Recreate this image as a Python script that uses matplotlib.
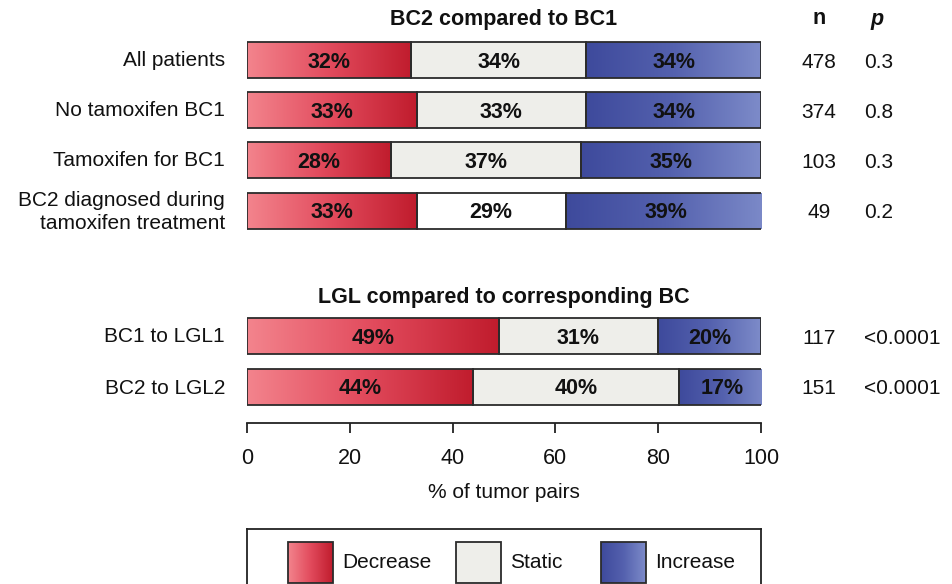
import numpy as np
import matplotlib
matplotlib.use("Agg")
import matplotlib.pyplot as plt
from matplotlib.colors import LinearSegmentedColormap

plt.rcParams['font.family'] = ['Liberation Sans', 'DejaVu Sans']

# data
groups = ['All patients', 'No tamoxifen BC1', 'Tamoxifen for BC1',
          'BC2 diagnosed during\ntamoxifen treatment',
          'BC1 to LGL1', 'BC2 to LGL2']
decrease = [32, 33, 28, 33, 49, 44]
static = [34, 33, 37, 29, 31, 40]
increase = [34, 34, 35, 39, 20, 17]
n_pairs = ['478', '374', '103', '49', '117', '151']
p_values = ['0.3', '0.8', '0.3', '0.2', '<0.0001', '<0.0001']
ticks = [0, 20, 40, 60, 80, 100]

# layout (pixels from the top of the figure)
rows = [60, 110, 160, 211, 336, 387]
bar_h = 36
static_fill = ['#eeeeea', '#eeeeea', '#eeeeea', '#ffffff', '#eeeeea', '#eeeeea']
edge = '#2b2b2b'
ink = '#111111'

red = LinearSegmentedColormap.from_list('dec', ['#f3848d', '#e24b5d', '#c01c2d'])
blue = LinearSegmentedColormap.from_list('inc', ['#3e4a9c', '#5461ae', '#7d8bc9'])
grad = np.linspace(0, 1, 256).reshape(1, -1)

W, H = 952, 584
fig = plt.figure(figsize=(W / 100, H / 100), dpi=100)

x0, x1, axis_y = 247, 761, 423
ax = fig.add_axes([x0 / W, (H - axis_y) / H, (x1 - x0) / W, axis_y / H])


def grad_box(axis, cmap, left, right, top, bottom):
    axis.imshow(grad, cmap=cmap, extent=[left, right, bottom, top],
                aspect='auto', interpolation='bilinear', zorder=1)


for i, y in enumerate(rows):
    d, s, inc = decrease[i], static[i], increase[i]
    grad_box(ax, red, 0, d, y - bar_h / 2, y + bar_h / 2)
    grad_box(ax, blue, d + s, d + s + inc, y - bar_h / 2, y + bar_h / 2)
    ax.barh(y, s, left=d, height=bar_h, color=static_fill[i], zorder=1)
    ax.barh(y, [d, s, inc], left=[0, d, d + s], height=bar_h,
            facecolor='none', edgecolor=edge, linewidth=1.3, zorder=2)
    for left, w in zip([0, d, d + s], [d, s, inc]):
        ax.text(left + w / 2, y + 2, f'{w}%', ha='center', va='center',
                fontsize=15.5, fontweight='bold', color=ink, zorder=3)
    ax.text(-4.3, y + 1, groups[i], ha='right', va='center', fontsize=15,
            color=ink, linespacing=1.25, clip_on=False)
    ax.text(111.3, y + 2, n_pairs[i], ha='center', va='center', fontsize=15,
            color=ink, clip_on=False)
    ax.text(120.0, y + 2, p_values[i], ha='left', va='center', fontsize=15,
            color=ink, clip_on=False)

ax.text(50, 19, 'BC2 compared to BC1', ha='center', va='center',
        fontsize=15.5, fontweight='bold', color=ink)
ax.text(50, 297, 'LGL compared to corresponding BC', ha='center', va='center',
        fontsize=15.5, fontweight='bold', color=ink)
ax.text(111.3, 19, 'n', ha='center', va='center', fontsize=15.5,
        fontweight='bold', color=ink, clip_on=False)
ax.text(122.5, 19, 'p', ha='center', va='center', fontsize=15.5,
        fontweight='bold', fontstyle='italic', color=ink, clip_on=False)

ax.set_xlim(0, 100)
ax.set_ylim(axis_y, 0)
for side in ['left', 'top', 'right']:
    ax.spines[side].set_visible(False)
ax.spines['bottom'].set_linewidth(1.3)
ax.spines['bottom'].set_color('#222222')
ax.set_yticks([])
ax.set_xticks(ticks)
ax.tick_params(axis='x', direction='out', length=7, width=1.3,
               color='#222222', labelsize=15.5, pad=11, labelcolor=ink)
ax.set_xlabel('% of tumor pairs', fontsize=15, labelpad=10, color=ink)

# legend box, its lower edge runs past the bottom of the figure
lax = fig.add_axes([x0 / W, (H - 600) / H, (x1 - x0) / W, (600 - 529) / H])
lax.set_xlim(x0, x1)
lax.set_ylim(600, 529)
lax.set_xticks([])
lax.set_yticks([])
for sp in lax.spines.values():
    sp.set_linewidth(1.3)
    sp.set_color('#222222')

legend_items = [('Decrease', red, None, 288),
                ('Static', None, '#eeeeea', 456),
                ('Increase', blue, None, 601)]
for label, cmap, fill, px in legend_items:
    if cmap is not None:
        grad_box(lax, cmap, px, px + 45, 542, 583)
    else:
        lax.barh(562.5, 45, left=px, height=41, color=fill, zorder=1)
    lax.barh(562.5, 45, left=px, height=41, facecolor='none',
             edgecolor=edge, linewidth=1.3, zorder=2)
    lax.text(px + 54, 563, label, ha='left', va='center', fontsize=15,
             color=ink)

fig.savefig('out.png', dpi=100)
